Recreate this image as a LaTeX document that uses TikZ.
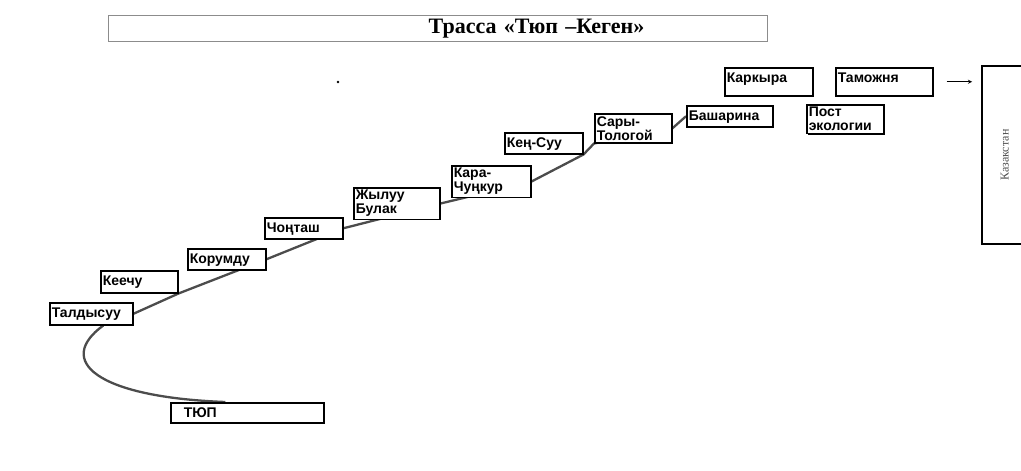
\documentclass[tikz,border=0pt]{standalone}
\usepackage{fontspec}
\setmainfont{Liberation Sans}
\newfontfamily\titlefont{Liberation Serif}
\usetikzlibrary{arrows, backgrounds, positioning, shadows}

\tikzset{
	stop/.style={draw, line width=1.5pt, fill=white, anchor=north west, align=left, inner xsep=2pt, inner ysep=2.5pt,
		font=\bfseries\fontsize{14}{14}\selectfont,
		drop shadow={shadow xshift=1pt, shadow yshift=-1pt, opacity=1, fill=black}},
	oneline/.style={text height=12pt, text depth=#1},
	route/.style={draw=black!70, line width=2.3pt}
}

\begin{document}
\begin{tikzpicture}[x=1pt, y=-1pt]
		\useasboundingbox (0,0) rectangle (1021,471);
		\node[draw=black!45, line width=0.8pt, anchor=north west, minimum width=658pt, minimum height=26pt,
			text width=652pt, align=left, font=\titlefont\bfseries\fontsize{22}{22}\selectfont] (title) at (108,15)
			{\hspace*{317pt}Трасса «Тюп –Кеген»};
		\fill (338,82) circle (1.3pt);
		\node[stop, oneline=5pt, text width=79pt] (tald) at (49,302) {Талдысуу};
		\node[stop, oneline=5pt, text width=73pt] (keechu) at (100,270) {Кеечу};
		\node[stop, oneline=4pt, text width=74pt] (korumdu) at (187,248) {Корумду};
		\node[stop, oneline=4pt, text width=74pt] (chongtash) at (264,217) {Чоңташ};
		\node[stop, text width=82pt, minimum height=30pt] (zhyluu) at (353,187) {Жылуу\\Булак};
		\node[stop, text width=75pt, minimum height=28pt] (kara) at (451,165) {Кара-\\Чуңкур};
		\node[stop, oneline=4pt, text width=74pt] (keng) at (504,132) {Кең-Суу};
		\node[stop, text width=73pt, minimum height=29pt] (sary) at (594,113) {Сары-\\Тологой};
		\node[stop, oneline=4pt, text width=82pt] (bash) at (686,105) {Башарина};
		\node[stop, oneline=11pt, text width=84pt] (kark) at (724,67) {Каркыра};
		\node[stop, oneline=11pt, text width=93pt] (tamozh) at (835,67) {Таможня};
		\node[stop, text width=73pt, minimum height=28pt] (post) at (806,104) {Пост\\экологии};
		\node[stop, oneline=3pt, text width=149pt] (tyup) at (170,402) {\hspace*{11pt}ТЮП};
		\node[draw, line width=1.6pt, rotate=90, anchor=north west, minimum width=178pt, minimum height=46pt,
			text=black!70, font=\titlefont\fontsize{12}{13}\selectfont] (kaz) at (981,245) {Казакстан};
		\draw[->, >=stealth, line width=0.8pt, shorten <=13pt, shorten >=9pt] (tamozh.east) -- (tamozh.east -| kaz.north);
	\begin{scope}[on background layer]
		\draw[route] (tald.east) -- (keechu.south east) -- (korumdu.east) -- (chongtash.east) -- (zhyluu.east)
			-- (kara.east) -- (keng.south east) -- (sary.south west) -- (sary.east) -- (bash.west);
		\draw[route] ([xshift=12pt]tald.south) .. controls +(-48,35) and +(-130,-5) .. ([xshift=-22pt]tyup.north);
	\end{scope}
\end{tikzpicture}
\end{document}
